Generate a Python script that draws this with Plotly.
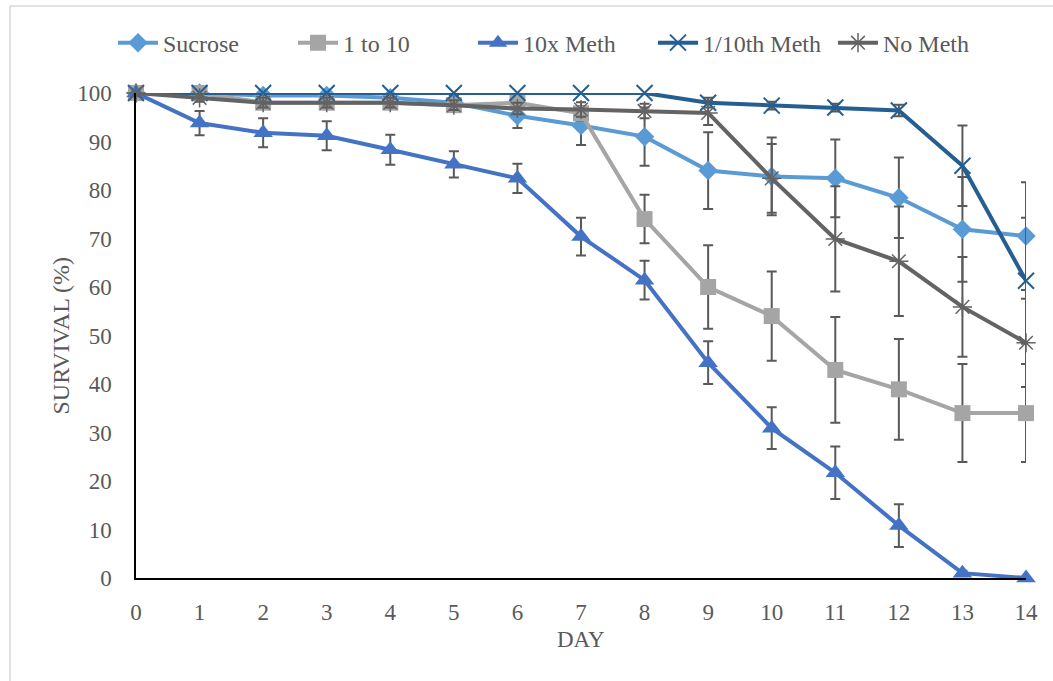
import plotly.graph_objects as go

days = list(range(15))

sucrose = [100, 100, 99.5, 99.5, 99, 98, 95.3, 93.3, 91, 84, 82.8, 82.4, 78.4, 71.9, 70.5]
sucrose_err = [0, 0, 0.5, 0.5, 1, 1.5, 2.5, 4, 6, 7.9, 8.0, 8.0, 8.3, 10.8, 11.1]

one_to_ten = [100, 100, 98, 98, 98, 97.5, 98, 95.8, 74, 60, 54, 42.9, 38.9, 34, 34]
one_to_ten_err = [0, 0, 1, 1, 1, 1, 1, 1.5, 5, 8.6, 9.2, 10.9, 10.4, 10.1, 10.1]

ten_x_meth = [100, 93.8, 91.8, 91.2, 88.3, 85.3, 82.4, 70.4, 61.4, 44.4, 30.9, 21.7, 10.8, 1, 0]
ten_x_meth_err = [0, 2.5, 3, 3, 3.1, 2.7, 3, 3.9, 4, 4.4, 4.3, 5.4, 4.4, 0.5, 0]

tenth_meth = [100, 100, 100, 100, 100, 100, 100, 100, 100, 98, 97.4, 97, 96.4, 85, 61.3]
tenth_meth_err = [0, 0, 0, 0, 0, 0, 0, 0, 0, 1, 0.8, 0.8, 1.2, 8.3, 13]

no_meth = [100, 99, 98, 98, 98, 97.5, 96.8, 96.6, 96.3, 95.9, 82.4, 69.9, 65.3, 55.9, 48.5]
no_meth_err = [0, 0.8, 1, 1, 1, 1, 1.2, 1.5, 1.5, 2.5, 7.1, 10.85, 11.3, 10.3, 9.1]

y_ticks = list(range(0, 101, 10))

FONT = "Liberation Serif"
TXT = "#595959"
ERR = "#595959"

series = [
    ("Sucrose", sucrose, sucrose_err, "#5B9BD5", "diamond", 15, 0),
    ("1 to 10", one_to_ten, one_to_ten_err, "#A5A5A5", "square", 16, 0),
    ("10x Meth", ten_x_meth, ten_x_meth_err, "#4472C4", "triangle-up", 17, 0),
    ("1/10th Meth", tenth_meth, tenth_meth_err, "#255E91", "x-thin", 16, 2),
    ("No Meth", no_meth, no_meth_err, "#636363", "asterisk", 16, 1.5),
]

fig = go.Figure()
for name, vals, err, col, sym, size, lw in series:
    marker = dict(symbol=sym, size=size, color=col)
    if lw:
        marker["line"] = dict(color=col, width=lw)
    else:
        marker["line"] = dict(width=0)
    fig.add_trace(go.Scatter(
        x=days, y=vals, name=name, mode="lines+markers",
        line=dict(color=col, width=4),
        marker=marker,
        error_y=dict(type="data", array=err, visible=True, color=ERR,
                     thickness=2, width=5),
        cliponaxis=False,
    ))

fig.update_layout(
    width=1053, height=681,
    margin=dict(l=136, r=27, t=93, b=103, autoexpand=False),
    paper_bgcolor="white", plot_bgcolor="white",
    font=dict(family=FONT, size=23, color=TXT),
    showlegend=True,
    legend=dict(orientation="h", x=(113 - 136) / 890, xanchor="left", y=1.103, yanchor="middle",
                font=dict(family=FONT, size=24, color=TXT), itemwidth=40,
                entrywidth=125, entrywidthmode="pixels",
                bgcolor="rgba(0,0,0,0)"),
    xaxis=dict(range=[0, 14], tickmode="array", tickvals=days,
               ticktext=[str(d) for d in days], showgrid=False, zeroline=False,
               showline=True, linecolor="black", linewidth=2, ticks="",
               ticklabelstandoff=12, tickfont=dict(family=FONT, size=23, color=TXT)),
    yaxis=dict(range=[0, 100], tickmode="array", tickvals=y_ticks,
               ticktext=[str(v) for v in y_ticks], showgrid=False, zeroline=False,
               showline=True, linecolor="black", linewidth=1.5, ticks="",
               ticklabelstandoff=18, tickfont=dict(family=FONT, size=23, color=TXT)),
    annotations=[
        dict(text="DAY", xref="paper", yref="paper", x=0.5, y=-0.127,
             xanchor="center", yanchor="middle", showarrow=False,
             font=dict(family=FONT, size=23, color=TXT)),
        dict(text="SURVIVAL (%)", xref="paper", yref="paper", x=-0.0843, y=0.5,
             xanchor="center", yanchor="middle", textangle=-90, showarrow=False,
             font=dict(family=FONT, size=24, color=TXT)),
    ],
    shapes=[
        dict(type="rect", xref="paper", yref="paper",
             x0=(10 - 136) / 890, x1=(1070 - 136) / 890,
             y0=(578 - 700) / 485, y1=(578 - 6) / 485,
             line=dict(color="#D9D9D9", width=1.5), layer="below"),
    ],
)

fig.write_html("out.html")
